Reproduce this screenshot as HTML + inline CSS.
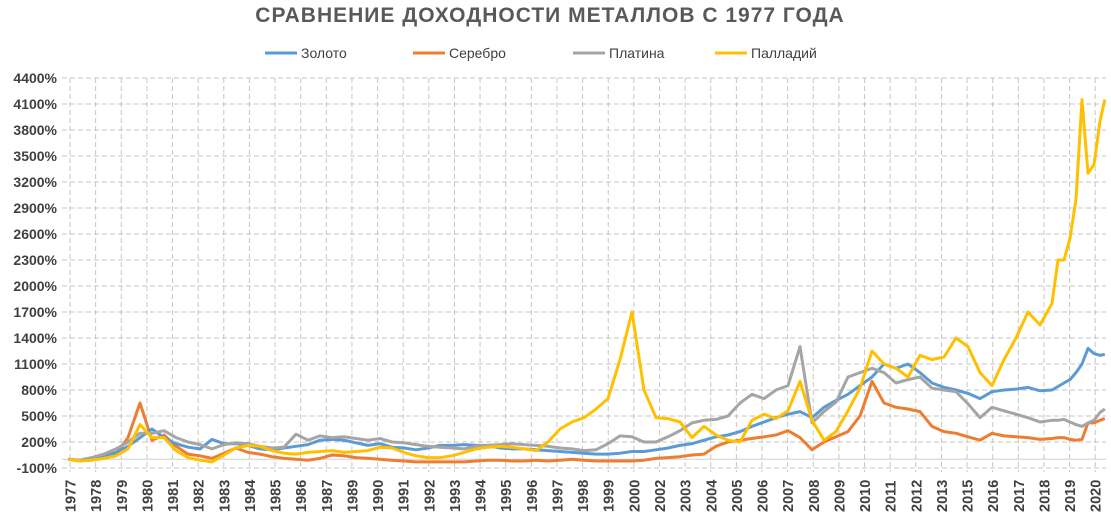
<!DOCTYPE html>
<html><head><meta charset="utf-8">
<style>
body{margin:0;background:#fff;}
svg{display:block;font-family:"Liberation Sans",sans-serif;}
</style></head>
<body>
<svg id="chart" width="1111" height="516" viewBox="0 0 1111 516" xmlns="http://www.w3.org/2000/svg">
<text x="550" y="22" text-anchor="middle" font-size="21" font-weight="bold" fill="#595959" letter-spacing="1">СРАВНЕНИЕ ДОХОДНОСТИ МЕТАЛЛОВ С 1977 ГОДА</text>
<g font-size="14" fill="#404040">
<g><line x1="265" y1="53" x2="297" y2="53" stroke="#5B9BD5" stroke-width="3"/><text x="301" y="58">Золото</text></g>
<g><line x1="413" y1="53" x2="445" y2="53" stroke="#ED7D31" stroke-width="3"/><text x="449" y="58">Серебро</text></g>
<g><line x1="573" y1="53" x2="605" y2="53" stroke="#A5A5A5" stroke-width="3"/><text x="609" y="58">Платина</text></g>
<g><line x1="715" y1="53" x2="747" y2="53" stroke="#FFC000" stroke-width="3"/><text x="751" y="58">Палладий</text></g>
</g>
<g id="grid"></g>
<g id="yaxis"></g>
<g id="xaxis"></g>
<g id="series"></g>
</svg>
<script>
const yearLabels=["1977","1978","1979","1980","1981","1982","1983","1984","1985","1986","1987","1989","1990","1991","1992","1993","1994","1995","1996","1997","1998","1999","2000","2002","2003","2004","2005","2006","2007","2008","2009","2010","2011","2012","2013","2015","2016","2017","2018","2019","2020"];
const yTicks=[-100,200,500,800,1100,1400,1700,2000,2300,2600,2900,3200,3500,3800,4100,4400];
const sampleTimes=[0,0.5,1,1.5,2,2.5,3,3.5,4,4.5,5,5.5,6,6.5,7,7.5,8,8.5,9,9.5,10,10.5,11,11.5,12,12.5,13,13.5,14,14.5,15,15.5,16,16.5,17,17.5,18,18.5,19,19.5,20,20.5,21,21.5,22,22.5,23,23.5,24,24.5,25,25.5,26,26.5,27,27.5,28,28.5,29,29.5,30,30.5,31,31.5,32,32.5,33,33.5,34,34.5,35,35.5,36,36.5,37,37.5,38,38.5,39,39.5,40,40.5,41,41.25,41.5,41.75,42,42.25,42.5,42.75,43,43.2];
const gold=[0,-10,20,40,80,150,250,350,250,180,140,120,230,180,180,160,120,110,130,150,170,220,230,220,190,160,180,140,130,110,130,160,160,170,160,160,130,120,120,110,100,90,80,70,60,60,70,90,90,110,130,160,180,220,260,280,320,380,430,480,520,550,480,600,680,750,850,950,1100,1050,1100,1000,880,830,800,760,700,780,800,810,830,790,800,840,880,920,1000,1100,1280,1220,1200,1210];
const silver=[0,-20,10,20,60,250,650,220,280,150,60,40,10,70,130,80,60,30,10,0,-10,10,50,40,20,10,0,-10,-20,-30,-30,-30,-30,-30,-20,-10,-10,-20,-20,-10,-20,-10,0,-10,-20,-20,-20,-20,-10,10,20,30,50,60,150,200,220,240,260,280,330,250,110,200,260,320,500,900,650,600,580,550,380,320,300,260,220,300,270,260,250,230,240,250,250,230,220,230,420,420,450,470];
const platinum=[0,-10,20,60,120,200,300,300,330,250,200,170,120,170,190,180,150,130,140,290,220,270,250,260,240,220,240,200,190,170,150,140,130,120,150,160,170,180,170,160,150,130,120,100,110,180,270,260,200,200,260,330,420,450,460,500,650,750,700,800,850,1300,420,550,660,950,1000,1050,1000,880,920,950,820,800,780,640,480,600,560,520,480,430,450,450,460,430,400,380,420,450,540,580];
const palladium=[0,-20,-10,10,40,120,400,250,250,100,20,-10,-30,50,130,160,150,100,70,60,80,90,100,80,90,100,140,130,80,40,20,20,40,80,120,140,150,140,120,100,200,350,430,480,580,700,1150,1700,800,480,470,430,250,380,280,220,200,450,520,470,560,900,450,220,320,560,820,1250,1100,1050,950,1200,1150,1180,1400,1300,1000,850,1150,1400,1700,1550,1800,2300,2300,2550,3000,4150,3300,3400,3900,4150];

const NS="http://www.w3.org/2000/svg";
const X0=70, STEP=25.63, LEFT=62, RIGHT=1106;
// convert sample time units to label-slot units
const timeSlots=sampleTimes.map(t=>(24*t-2)/STEP);
function xPos(s){return X0+STEP*s;}
function yPos(v){return 459.3 - v*26/300;}
function mk(tag,attrs,parent){const e=document.createElementNS(NS,tag);for(const k in attrs)e.setAttribute(k,attrs[k]);parent.appendChild(e);return e;}
const grid=document.getElementById('grid'), ya=document.getElementById('yaxis'), xa=document.getElementById('xaxis'), sg=document.getElementById('series');
yTicks.forEach(v=>{
  const y=yPos(v);
  const l=mk('line',{x1:LEFT,x2:RIGHT,y1:y,y2:y,stroke:'#c6c6c6','stroke-width':1,'stroke-dasharray':'5,3'},grid);
  
  
  const t=mk('text',{x:57,y:y+5,'text-anchor':'end','font-size':14,'font-weight':'bold',fill:'#404040'},ya);
  
  
  t.textContent=v+'%';
});
const z=mk('line',{x1:LEFT,x2:RIGHT,y1:yPos(0),y2:yPos(0),stroke:'#d0d0d0','stroke-width':1},grid);


yearLabels.forEach((lab,i)=>{
  const x=xPos(i);
  const l=mk('line',{x1:x,x2:x,y1:yPos(4400),y2:yPos(-100)+4,stroke:'#c6c6c6','stroke-width':1,'stroke-dasharray':'5,3'},grid);
  
  
  const t=mk('text',{transform:'translate('+(x+5.5)+',512) rotate(-90)','font-size':14.5,'font-weight':'bold',fill:'#404040'},xa);
  
  
  t.textContent=lab;
});
function drawSeries(vals,color,name){
  const d=vals.map((v,i)=>(i?'L':'M')+xPos(timeSlots[i]).toFixed(1)+','+yPos(v).toFixed(1)).join(' ');
  const p=mk('path',{d:d,fill:'none',stroke:color,'stroke-width':3,'stroke-linejoin':'round'},sg);
  
  
}
drawSeries(silver,'#ED7D31','line-silver');
drawSeries(gold,'#5B9BD5','line-gold');
drawSeries(platinum,'#A5A5A5','line-platinum');
drawSeries(palladium,'#FFC000','line-palladium');
</script>
</body></html>
